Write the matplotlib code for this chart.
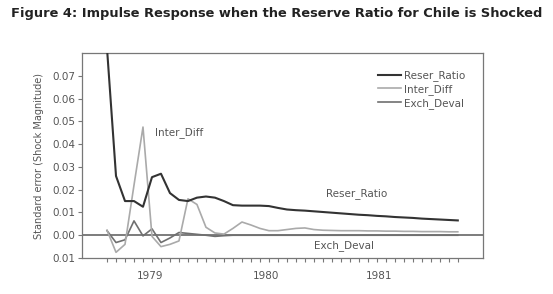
import numpy as np
import matplotlib
matplotlib.use("Agg")
import matplotlib.pyplot as plt
from matplotlib.ticker import FixedLocator, FixedFormatter

# monthly periods of the impulse response
periods = np.arange(40)

reser_ratio = [0.082, 0.026, 0.015, 0.015, 0.0125, 0.0255, 0.027, 0.0185, 0.0155, 0.015,
               0.0165, 0.017, 0.0165, 0.015, 0.0132, 0.013, 0.013, 0.013, 0.0128, 0.012,
               0.0113, 0.011, 0.0108, 0.0105, 0.0102, 0.0099, 0.0096, 0.0093, 0.009, 0.0088,
               0.0085, 0.0083, 0.008, 0.0078, 0.0076, 0.0073, 0.0071, 0.0069, 0.0067, 0.0065]

inter_diff = [0.0022, -0.0075, -0.004, 0.022, 0.0475, -0.0005, -0.005, -0.004, -0.0025, 0.016,
              0.0135, 0.0035, 0.001, 0.0005, 0.003, 0.0058, 0.0045, 0.003, 0.002, 0.002,
              0.0025, 0.003, 0.0032, 0.0025, 0.0022, 0.0021, 0.002, 0.002, 0.002, 0.0019,
              0.0019, 0.0018, 0.0018, 0.0017, 0.0017, 0.0016, 0.0016, 0.0016, 0.0015, 0.0015]

exch_deval = [0.002, -0.0032, -0.002, 0.0063, -0.0003, 0.0028, -0.0032, -0.0012, 0.0012, 0.0008,
              0.0004, 0.0, -0.0005, -0.0002, 0.0, 0.0, 0.0, 0.0, 0.0, 0.0,
              0.0, 0.0, 0.0, 0.0, 0.0, 0.0, 0.0, 0.0, 0.0, 0.0,
              0.0, 0.0, 0.0, 0.0, 0.0, 0.0, 0.0, 0.0, 0.0, 0.0]

y_ticks = [-0.01, 0.0, 0.01, 0.02, 0.03, 0.04, 0.05, 0.06, 0.07]
y_tick_labels = ["0.01", "0.00", "0.01", "0.02", "0.03", "0.04", "0.05", "0.06", "0.07"]
year_labels = ["1979", "1980", "1981"]
year_pos = [4.8, 17.7, 30.3]

plt.rcParams["font.family"] = "DejaVu Sans"
frame_col = "#777777"
text_col = "#555555"

fig = plt.figure(figsize=(5.53, 2.94), dpi=100)
ax = fig.add_axes([0.1483, 0.1224, 0.7251, 0.6973])

ax.axhline(0, color="#666666", lw=1.2, zorder=1)
ax.plot(periods, reser_ratio, color="#333333", lw=1.5, label="Reser_Ratio", zorder=4)
ax.plot(periods, inter_diff, color="#aaaaaa", lw=1.2, label="Inter_Diff", zorder=3)
ax.plot(periods, exch_deval, color="#707070", lw=1.2, label="Exch_Deval", zorder=2)

ax.set_xlim(-2.78, 41.8)
ax.set_ylim(-0.01, 0.08)

ax.yaxis.set_major_locator(FixedLocator(y_ticks))
ax.yaxis.set_major_formatter(FixedFormatter(y_tick_labels))
ax.tick_params(axis="y", direction="out", length=3, width=0.8, color=frame_col,
               labelsize=7.5, labelcolor=text_col, pad=2)

ax.xaxis.set_minor_locator(FixedLocator(periods))
ax.xaxis.set_major_locator(FixedLocator(year_pos))
ax.xaxis.set_major_formatter(FixedFormatter(year_labels))
ax.tick_params(axis="x", which="major", length=0, labelsize=7.5, labelcolor=text_col, pad=9)
ax.tick_params(axis="x", which="minor", direction="out", length=3, width=0.8, color=frame_col)

for s in ax.spines.values():
    s.set_color(frame_col)
    s.set_linewidth(0.9)

ax.set_ylabel("Standard error (Shock Magnitude)", fontsize=7, color=text_col, labelpad=6)

ax.text(5.3, 0.045, "Inter_Diff", fontsize=7.5, color=text_col, va="center")
ax.text(24.4, 0.0185, "Reser_Ratio", fontsize=7.5, color=text_col, va="center")
ax.text(23.0, -0.0045, "Exch_Deval", fontsize=7.5, color=text_col, va="center")

leg = ax.legend(loc="upper right", frameon=False, fontsize=7.5, handlelength=2.2,
                handletextpad=0.3, labelspacing=0.25, bbox_to_anchor=(0.98, 0.96))
for t in leg.get_texts():
    t.set_color(text_col)

fig.text(0.5, 0.955, "Figure 4: Impulse Response when the Reserve Ratio for Chile is Shocked",
         ha="center", va="center", fontsize=9.4, fontweight="bold", color="#222222")

fig.savefig("out.png", dpi=100)
